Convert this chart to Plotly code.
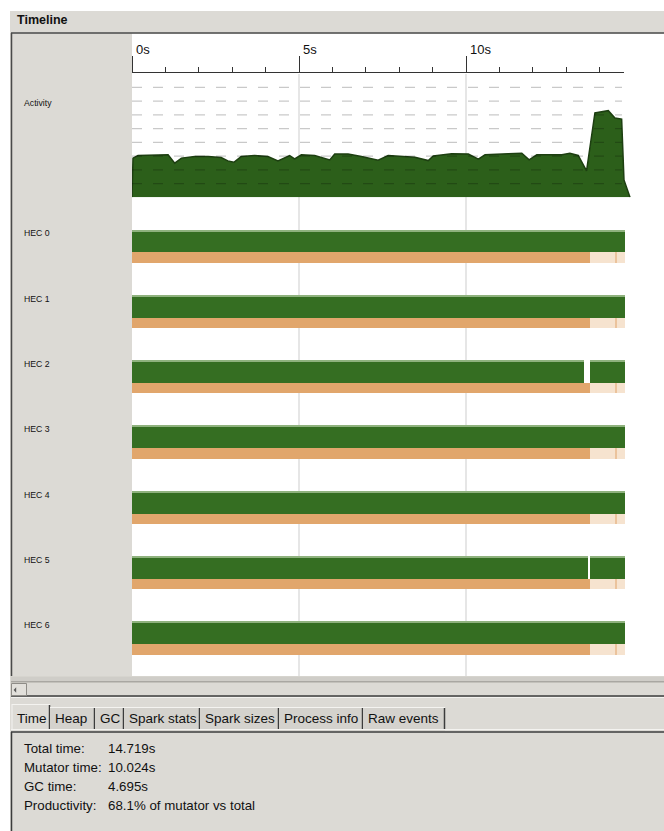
import plotly.graph_objects as go

W, H = 664, 831

# ---------------- data ----------------
time_ticks = [0, 5, 10]
time_tick_labels = ["0s", "5s", "10s"]

# activity profile (seconds, number of busy HECs)
activity_t = [0.00, 0.03, 0.18, 0.68, 1.08, 1.28, 1.48, 1.88, 2.28, 2.67, 2.87, 3.05,
              3.27, 3.67, 4.07, 4.37, 4.52, 4.72, 4.87, 5.07, 5.47, 5.77, 5.92, 6.07,
              6.47, 6.87, 7.37, 7.67, 8.07, 8.47, 8.87, 9.02, 9.57, 10.07, 10.37, 10.57,
              11.27, 11.67, 11.89, 12.12, 12.87, 13.11, 13.36, 13.61, 13.86, 14.26,
              14.46, 14.66, 14.73, 14.91]
activity_v = [0.00, 2.85, 3.04, 3.09, 3.09, 2.48, 2.85, 2.96, 2.96, 2.89, 2.65, 2.55,
              2.96, 3.04, 2.96, 2.65, 2.80, 3.04, 2.80, 3.09, 3.04, 2.85, 2.72, 3.14,
              3.14, 2.96, 2.70, 3.04, 2.96, 2.92, 2.67, 3.01, 3.16, 3.14, 2.77, 3.09,
              3.16, 3.21, 2.72, 3.09, 3.09, 3.21, 3.04, 1.92, 6.13, 6.30,
              5.77, 5.69, 1.26, 0.00]
activity_levels = [1, 2, 3, 4, 5, 6, 7, 8]
activity_level_end = 14.67

hec_ids = [0, 1, 2, 3, 4, 5, 6]
hec_names = ["HEC 0", "HEC 1", "HEC 2", "HEC 3", "HEC 4", "HEC 5", "HEC 6"]

# mutator (green) segments
mut_hec = [0, 1, 2, 2, 3, 4, 5, 5, 6]
mut_start = [0, 0, 0, 13.71, 0, 0, 0, 13.71, 0]
mut_end = [14.76, 14.76, 13.54, 14.76, 14.76, 14.76, 13.66, 14.76, 14.76]

# GC (orange) segments: busy GC, light GC tail, and a short stripe
gc_start = [0] * 7
gc_end = [13.71] * 7
gc_light_start = [13.71] * 7
gc_light_end = [14.76] * 7
gc_stripe_start = [14.46] * 7
gc_stripe_end = [14.52] * 7

tab_labels = ["Time", "Heap", "GC", "Spark stats", "Spark sizes", "Process info", "Raw events"]
stats_labels = ["Total time:", "Mutator time:", "GC time:", "Productivity:"]
stats_values = ["14.719s", "10.024s", "4.695s", "68.1% of mutator vs total"]

# ---------------- geometry helpers ----------------
FONT = "Liberation Sans, Arial, sans-serif"
BG = "#dcdad5"
PX_PER_S = 33.4
X0 = 132


def px(x):
    return x / W


def py(y):
    return 1 - y / H


GREEN = "#356e22"
ORANGE = "#e1a66c"
PALE = "#f6e3cf"
STRIPE = "#ebc39c"
TXT = "#111111"

fig = go.Figure()

# activity area
fig.add_trace(go.Scatter(
    x=activity_t, y=activity_v, mode="lines", fill="tozeroy",
    fillcolor="#2c5f1a", line=dict(color="#1d3f11", width=1.5),
    xaxis="x", yaxis="y", hoverinfo="skip", showlegend=False))

# dashed level lines (semi-transparent so they look darker inside the fill)
for lv in activity_levels:
    fig.add_trace(go.Scatter(
        x=[0, activity_level_end], y=[lv, lv], mode="lines",
        line=dict(color="rgba(0,0,0,0.21)", width=1.3, dash="10px,11px"),
        xaxis="x", yaxis="y", hoverinfo="skip", showlegend=False))


# HEC bars
def bars(hec, s, e, color, offset, width):
    fig.add_trace(go.Bar(
        y=hec, base=s, x=[b - a for a, b in zip(s, e)], orientation="h",
        marker=dict(color=color, line=dict(width=0)), offset=offset, width=width,
        xaxis="x", yaxis="y2", hoverinfo="skip", showlegend=False))


bars(mut_hec, mut_start, mut_end, GREEN, -0.170, 0.341)
bars(mut_hec, mut_start, mut_end, "#8fb27e", -0.170, 0.016)
bars(hec_ids, gc_start, gc_end, ORANGE, 0.171, 0.159)
bars(hec_ids, gc_light_start, gc_light_end, PALE, 0.171, 0.159)
bars(hec_ids, gc_stripe_start, gc_stripe_end, STRIPE, 0.171, 0.159)

# dummy trace so the top time axis is drawn
fig.add_trace(go.Scatter(x=[0], y=[0], mode="markers", marker=dict(opacity=0),
                         xaxis="x2", yaxis="y", hoverinfo="skip", showlegend=False))

# ---------------- shapes ----------------
shapes = []
# page background
shapes.append(dict(type="rect", xref="paper", yref="paper", x0=px(10), x1=1,
                   y0=0, y1=py(11), fillcolor=BG, line=dict(width=0), layer="below"))
# white drawing area
shapes.append(dict(type="rect", xref="paper", yref="paper", x0=px(132), x1=1,
                   y0=py(676), y1=py(33.5), fillcolor="white", line=dict(width=0), layer="below"))
# vertical time grid lines
for t in time_ticks[1:]:
    shapes.append(dict(type="line", xref="x", yref="paper", x0=t, x1=t,
                       y0=py(676), y1=py(74), line=dict(color="#e6e6e6", width=2), layer="below"))
# border of timeline frame
shapes.append(dict(type="line", xref="paper", yref="paper", x0=px(11), x1=1,
                   y0=py(33), y1=py(33), line=dict(color="#4a4a4a", width=1.5)))
shapes.append(dict(type="line", xref="paper", yref="paper", x0=px(11.5), x1=px(11.5),
                   y0=py(676), y1=py(33), line=dict(color="#4a4a4a", width=1.5)))
# horizontal scrollbar
shapes.append(dict(type="rect", xref="paper", yref="paper", x0=px(11), x1=1,
                   y0=py(681), y1=py(676.5), fillcolor="#cfcdc8", line=dict(width=0)))
shapes.append(dict(type="line", xref="paper", yref="paper", x0=px(11), x1=1,
                   y0=py(681.8), y1=py(681.8), line=dict(color="#a9a7a2", width=1.6)))
shapes.append(dict(type="line", xref="paper", yref="paper", x0=px(11), x1=1,
                   y0=py(696), y1=py(696), line=dict(color="#3c3c3c", width=1.5)))
shapes.append(dict(type="line", xref="paper", yref="paper", x0=px(11), x1=1,
                   y0=py(697.5), y1=py(697.5), line=dict(color="#f3f2ef", width=1)))
shapes.append(dict(type="rect", xref="paper", yref="paper", x0=px(11.5), x1=px(26.5),
                   y0=py(695.5), y1=py(683.5), fillcolor="#e2e0db",
                   line=dict(color="#8e8c87", width=1)))
shapes.append(dict(type="path", xref="paper", yref="paper",
                   path=f"M {px(16.2)},{py(687.3)} L {px(13.6)},{py(690)} L {px(16.2)},{py(692.7)} Z",
                   fillcolor="#5a5a5a", line=dict(width=0)))

# tabs
tab_edges = [12, 50, 95, 124, 200, 279, 363, 445]
for i, lab in enumerate(tab_labels):
    l, r = tab_edges[i], tab_edges[i + 1]
    top = 704 if i == 0 else 707
    shapes.append(dict(type="rect", xref="paper", yref="paper", x0=px(l), x1=px(r),
                       y0=py(731), y1=py(top),
                       fillcolor="#dddbd6" if i == 0 else "#d4d2cd", line=dict(width=0)))
    shapes.append(dict(type="line", xref="paper", yref="paper", x0=px(l), x1=px(r),
                       y0=py(top + 0.5), y1=py(top + 0.5), line=dict(color="#f4f3f0", width=1)))
    shapes.append(dict(type="line", xref="paper", yref="paper", x0=px(r - 0.5), x1=px(r - 0.5),
                       y0=py(730), y1=py(top + 1), line=dict(color="#3c3c3c", width=1.5)))
shapes.append(dict(type="line", xref="paper", yref="paper", x0=px(12), x1=px(12),
                   y0=py(730), y1=py(704), line=dict(color="#f4f3f0", width=1)))
# panel border
shapes.append(dict(type="line", xref="paper", yref="paper", x0=px(11), x1=1,
                   y0=py(729.5), y1=py(729.5), line=dict(color="#f4f3f0", width=1)))
shapes.append(dict(type="line", xref="paper", yref="paper", x0=px(11), x1=1,
                   y0=py(732), y1=py(732), line=dict(color="#3c3c3c", width=1.6)))
shapes.append(dict(type="line", xref="paper", yref="paper", x0=px(11.5), x1=px(11.5),
                   y0=0, y1=py(732), line=dict(color="#3c3c3c", width=1.5)))

# ---------------- annotations ----------------
ann = []
ann.append(dict(text="<b>Timeline</b>", x=px(14.5), y=py(20), xref="paper", yref="paper",
                xanchor="left", yanchor="middle", showarrow=False,
                font=dict(family=FONT, size=12.5, color=TXT)))
ann.append(dict(text="Activity", x=px(22), y=py(102.5), xref="paper", yref="paper",
                xanchor="left", yanchor="middle", showarrow=False,
                font=dict(family=FONT, size=8.7, color=TXT)))
for hid, name in zip(hec_ids, hec_names):
    ann.append(dict(text=name, x=px(22), y=hid - 0.12, xref="paper", yref="y2",
                    xanchor="left", yanchor="middle", showarrow=False,
                    font=dict(family=FONT, size=8.7, color=TXT)))
for i, lab in enumerate(tab_labels):
    ann.append(dict(text=lab, x=px(tab_edges[i] + 3.2), y=py(718.5), xref="paper", yref="paper",
                    xanchor="left", yanchor="middle", showarrow=False,
                    font=dict(family=FONT, size=13.5, color=TXT)))
for i, (lab, val) in enumerate(zip(stats_labels, stats_values)):
    yy = 748 + 19 * i
    ann.append(dict(text=lab, x=px(22), y=py(yy), xref="paper", yref="paper",
                    xanchor="left", yanchor="middle", showarrow=False,
                    font=dict(family=FONT, size=13.3, color=TXT)))
    ann.append(dict(text=val, x=px(106), y=py(yy), xref="paper", yref="paper",
                    xanchor="left", yanchor="middle", showarrow=False,
                    font=dict(family=FONT, size=13.3, color=TXT)))

# ---------------- axes / layout ----------------
act_top_px = 73.3
act_base_px = 197.3
level_px = 13.75
hec_unit = 65.3
hec0_px = 241.15

hidden = dict(visible=False, showgrid=False, zeroline=False, fixedrange=True)

fig.update_layout(
    width=W, height=H,
    margin=dict(l=0, r=0, t=0, b=0),
    paper_bgcolor="white", plot_bgcolor="rgba(0,0,0,0)",
    barmode="overlay", bargap=0, hovermode=False, showlegend=False,
    xaxis=dict(domain=[px(X0), 1], range=[0, (W - X0) / PX_PER_S], anchor="y", **hidden),
    xaxis2=dict(domain=[px(X0), px(624)], range=[0, (624 - X0) / PX_PER_S],
                anchor="y", side="top", showgrid=False, zeroline=False,
                showline=True, linecolor="#333", linewidth=1,
                ticks="outside", ticklen=16, tickwidth=1, tickcolor="#333",
                tickvals=time_ticks, ticktext=time_tick_labels,
                ticklabelposition="outside right",
                ticklabelstandoff=13, ticklabelshift=3,
                tickfont=dict(family=FONT, size=13, color=TXT),
                minor=dict(dtick=1, ticks="outside", ticklen=5, tickwidth=1,
                           tickcolor="#333", showgrid=False),
                fixedrange=True),
    yaxis=dict(domain=[py(act_base_px), py(act_top_px)],
               range=[0, (act_base_px - act_top_px) / level_px], **hidden),
    yaxis2=dict(domain=[0, 1], anchor="x",
                range=[(H - hec0_px) / hec_unit, -hec0_px / hec_unit], **hidden),
    shapes=shapes, annotations=ann,
)

fig.write_html("out.html", config={"displayModeBar": False},
               post_script="document.body.style.margin='0px';")
